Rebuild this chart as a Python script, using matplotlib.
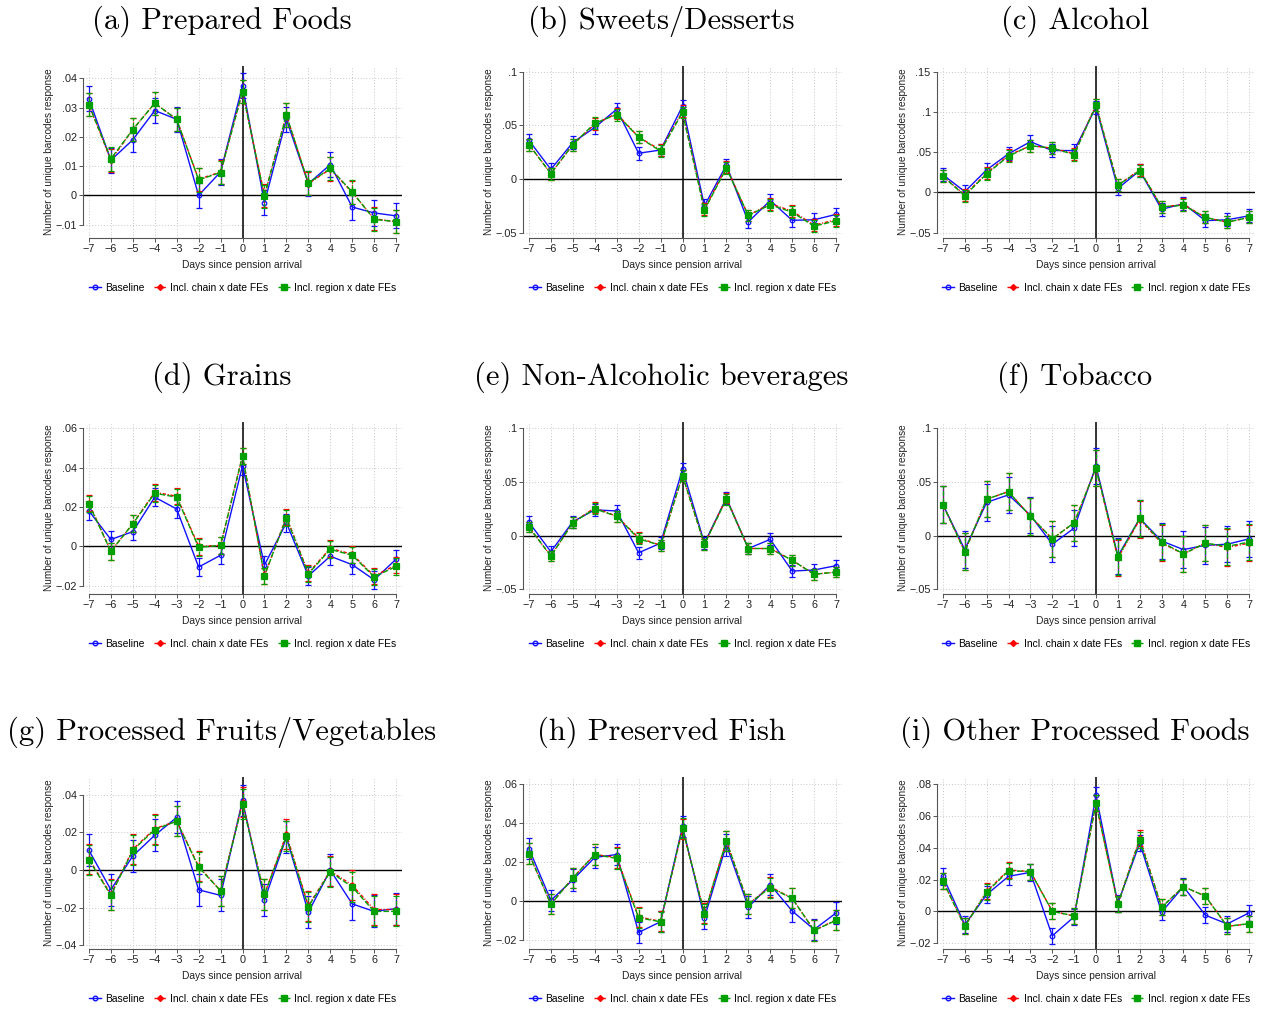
import matplotlib
matplotlib.use("Agg")
import matplotlib.pyplot as plt
from matplotlib.ticker import FixedLocator, FuncFormatter
from matplotlib.lines import Line2D

# ---------------- data ----------------
days = list(range(-7, 8))

titles = ["(a) Prepared Foods", "(b) Sweets/Desserts", "(c) Alcohol",
          "(d) Grains", "(e) Non-Alcoholic beverages", "(f) Tobacco",
          "(g) Processed Fruits/Vegetables", "(h) Preserved Fish", "(i) Other Processed Foods"]

series_labels = ["Baseline", "Incl. chain x date FEs", "Incl. region x date FEs"]

prepared_base   = [0.033, 0.012, 0.019, 0.029, 0.026, 0.000, 0.008, 0.0375, -0.0025, 0.026, 0.004, 0.0105, -0.004, -0.006, -0.007]
prepared_chain  = [0.031, 0.012, 0.0225, 0.0315, 0.026, 0.0055, 0.008, 0.0355, 0.000, 0.0275, 0.004, 0.009, 0.001, -0.008, -0.009]
prepared_region = [0.031, 0.0125, 0.0225, 0.0315, 0.026, 0.0053, 0.0078, 0.0355, -0.0003, 0.0275, 0.0042, 0.0092, 0.0012, -0.0082, -0.009]

sweets_base   = [0.036, 0.009, 0.034, 0.048, 0.065, 0.024, 0.027, 0.068, -0.025, 0.013, -0.040, -0.020, -0.0385, -0.038, -0.033]
sweets_chain  = [0.032, 0.005, 0.032, 0.051, 0.061, 0.039, 0.027, 0.063, -0.028, 0.011, -0.034, -0.023, -0.030, -0.043, -0.038]
sweets_region = [0.032, 0.005, 0.032, 0.052, 0.060, 0.039, 0.026, 0.062, -0.029, 0.010, -0.034, -0.024, -0.031, -0.044, -0.039]

alcohol_base   = [0.022, 0.001, 0.028, 0.048, 0.063, 0.052, 0.052, 0.106, 0.005, 0.027, -0.021, -0.014, -0.035, -0.034, -0.029]
alcohol_chain  = [0.020, -0.003, 0.024, 0.046, 0.058, 0.055, 0.048, 0.109, 0.009, 0.028, -0.018, -0.015, -0.031, -0.037, -0.031]
alcohol_region = [0.020, -0.004, 0.023, 0.045, 0.058, 0.055, 0.047, 0.108, 0.009, 0.027, -0.018, -0.016, -0.031, -0.037, -0.031]

grains_base   = [0.018, 0.0035, 0.0075, 0.025, 0.019, -0.0105, -0.0045, 0.041, -0.0095, 0.012, -0.015, -0.005, -0.0093, -0.017, -0.0065]
grains_chain  = [0.022, -0.0025, 0.0115, 0.0275, 0.0255, 0.000, 0.0005, 0.046, -0.015, 0.015, -0.0135, -0.001, -0.004, -0.015, -0.0095]
grains_region = [0.0215, -0.0025, 0.0115, 0.027, 0.025, -0.0005, 0.0005, 0.046, -0.015, 0.0145, -0.014, -0.0015, -0.0045, -0.0155, -0.0102]

nonalc_base   = [0.0125, -0.015, 0.013, 0.024, 0.023, -0.016, -0.007, 0.062, -0.007, 0.035, -0.012, -0.0035, -0.033, -0.032, -0.028]
nonalc_chain  = [0.008, -0.019, 0.012, 0.026, 0.018, -0.002, -0.009, 0.056, -0.008, 0.035, -0.012, -0.012, -0.023, -0.036, -0.034]
nonalc_region = [0.008, -0.019, 0.012, 0.025, 0.018, -0.003, -0.009, 0.056, -0.008, 0.034, -0.012, -0.012, -0.023, -0.036, -0.034]

tobacco_base   = [0.029, -0.013, 0.031, 0.038, 0.019, -0.008, 0.007, 0.065, -0.019, 0.016, -0.005, -0.013, -0.009, -0.008, -0.003]
tobacco_chain  = [0.029, -0.015, 0.034, 0.041, 0.018, -0.003, 0.012, 0.063, -0.021, 0.015, -0.007, -0.017, -0.007, -0.011, -0.007]
tobacco_region = [0.029, -0.015, 0.034, 0.041, 0.018, -0.003, 0.012, 0.063, -0.020, 0.016, -0.006, -0.017, -0.007, -0.010, -0.006]

fruitveg_base   = [0.0105, -0.0105, 0.0075, 0.0185, 0.028, -0.0105, -0.0135, 0.037, -0.016, 0.0175, -0.0225, 0.000, -0.018, -0.022, -0.0205]
fruitveg_chain  = [0.006, -0.013, 0.011, 0.022, 0.026, 0.002, -0.011, 0.036, -0.013, 0.019, -0.019, -0.0005, -0.008, -0.021, -0.021]
fruitveg_region = [0.0055, -0.0135, 0.0105, 0.0215, 0.026, 0.0015, -0.011, 0.035, -0.013, 0.018, -0.0195, -0.001, -0.009, -0.022, -0.022]

fish_base   = [0.027, 0.0005, 0.011, 0.0225, 0.024, -0.016, -0.0105, 0.0385, -0.0085, 0.029, -0.003, 0.0085, -0.005, -0.0145, -0.006]
fish_chain  = [0.0245, -0.0015, 0.012, 0.024, 0.0225, -0.008, -0.0103, 0.037, -0.006, 0.031, -0.0015, 0.0075, 0.0015, -0.015, -0.0095]
fish_region = [0.0245, -0.0015, 0.012, 0.024, 0.022, -0.0085, -0.0105, 0.0375, -0.0065, 0.031, -0.0015, 0.007, 0.0015, -0.015, -0.0098]

other_base   = [0.022, -0.0085, 0.0105, 0.022, 0.0245, -0.0155, -0.0035, 0.073, 0.005, 0.043, -0.0005, 0.0155, -0.0025, -0.008, -0.001]
other_chain  = [0.019, -0.0095, 0.0125, 0.026, 0.025, 0.000, -0.003, 0.068, 0.0045, 0.046, 0.0025, 0.0155, 0.0095, -0.0095, -0.008]
other_region = [0.019, -0.0095, 0.012, 0.0255, 0.025, 0.000, -0.003, 0.068, 0.0045, 0.045, 0.0025, 0.0155, 0.0095, -0.0095, -0.0078]

# 95% CI half-widths (baseline, chain, region)
ci_prepared = [0.0043, 0.0040, 0.0040]
ci_sweets   = [0.0060, 0.0055, 0.0055]
ci_alcohol  = [0.0080, 0.0075, 0.0075]
ci_grains   = [0.0045, 0.0042, 0.0042]
ci_nonalc   = [0.0055, 0.0050, 0.0050]
ci_tobacco  = [0.0170, 0.0170, 0.0170]
ci_fruitveg = [0.0085, 0.0080, 0.0080]
ci_fish     = [0.0055, 0.0052, 0.0052]
ci_other    = [0.0052, 0.0050, 0.0050]

yticks_list = [
    [-0.01, 0, 0.01, 0.02, 0.03, 0.04],
    [-0.05, 0, 0.05, 0.1],
    [-0.05, 0, 0.05, 0.1, 0.15],
    [-0.02, 0, 0.02, 0.04, 0.06],
    [-0.05, 0, 0.05, 0.1],
    [-0.05, 0, 0.05, 0.1],
    [-0.04, -0.02, 0, 0.02, 0.04],
    [-0.02, 0, 0.02, 0.04, 0.06],
    [-0.02, 0, 0.02, 0.04, 0.06, 0.08],
]

panels = [
    (prepared_base, prepared_chain, prepared_region, ci_prepared),
    (sweets_base, sweets_chain, sweets_region, ci_sweets),
    (alcohol_base, alcohol_chain, alcohol_region, ci_alcohol),
    (grains_base, grains_chain, grains_region, ci_grains),
    (nonalc_base, nonalc_chain, nonalc_region, ci_nonalc),
    (tobacco_base, tobacco_chain, tobacco_region, ci_tobacco),
    (fruitveg_base, fruitveg_chain, fruitveg_region, ci_fruitveg),
    (fish_base, fish_chain, fish_region, ci_fish),
    (other_base, other_chain, other_region, ci_other),
]

# ---------------- layout / style ----------------
ylims = [(-0.01457, 0.04422), (-0.055, 0.1053), (-0.0566, 0.157),
         (-0.0242, 0.0632), (-0.0544, 0.1059), (-0.0544, 0.1059),
         (-0.042, 0.0495), (-0.0245, 0.0638), (-0.0238, 0.0846)]

W, H = 1263, 1011
col_left = [83, 523, 937]
col_width = [319, 319, 318]
row_top = [66, 422, 777]
ax_h = 172

colors = ["#1010ff", "#ff0000", "#00a000"]
linestyles = ["-", (0, (2.5, 1.2, 0.8, 1.2)), (0, (4, 1.5))]
markers = ["o", "D", "s"]
msizes = [3.3, 3.0, 3.8]
mfcs = ["none", "#ff0000", "#00a000"]

sans = ["Liberation Sans", "DejaVu Sans"]
plt.rcParams["font.family"] = sans


def fmt(v, pos=None):
    if abs(v) < 1e-12:
        return "0"
    s = f"{abs(v):.2f}".rstrip("0")
    if s.startswith("0"):
        s = s[1:]
    return ("\u2212" if v < 0 else "") + s


fig = plt.figure(figsize=(W / 100, H / 100), dpi=100)

for i, (title, pdata, yt, yl) in enumerate(zip(titles, panels, yticks_list, ylims)):
    r, c = divmod(i, 3)
    left = col_left[c]
    top = row_top[r]
    ax = fig.add_axes([left / W, 1 - (top + ax_h) / H, col_width[c] / W, ax_h / H])
    ax.set_xlim(-7.27, 7.27)
    ax.set_ylim(*yl)

    ax.yaxis.set_major_locator(FixedLocator(yt))
    ax.yaxis.set_major_formatter(FuncFormatter(fmt))
    ax.xaxis.set_major_locator(FixedLocator(days))
    ax.xaxis.set_major_formatter(FuncFormatter(lambda v, p: ("\u2212" if v < 0 else "") + str(abs(int(round(v))))))

    ax.grid(True, linestyle=(0, (1, 2)), color="#c8c8c8", linewidth=0.7, zorder=0)
    ax.set_axisbelow(True)
    for sp in ["top", "right"]:
        ax.spines[sp].set_visible(False)
    ax.spines["left"].set_bounds(yt[0], yt[-1])
    ax.spines["bottom"].set_bounds(-7, 7)
    for sp in ["left", "bottom"]:
        ax.spines[sp].set_color("#555555")
        ax.spines[sp].set_linewidth(0.8)
    ax.tick_params(axis="both", length=3, width=0.7, color="#555555", pad=1.5,
                   labelsize=7.8, labelcolor="#222222")

    ax.axhline(0, color="black", linewidth=1.0, zorder=2)
    ax.axvline(0, color="black", linewidth=1.1, zorder=2)

    base, chain, region, ci = pdata
    for k, vals in enumerate([base, chain, region]):
        eb = ax.errorbar(days, vals, yerr=ci[k], color=colors[k], linestyle=linestyles[k],
                         linewidth=1.0, marker=markers[k], markersize=msizes[k],
                         markerfacecolor=mfcs[k], markeredgecolor=colors[k], markeredgewidth=0.9,
                         elinewidth=0.9, capsize=2.2, capthick=0.9, zorder=3 + k,
                         label=series_labels[k])
        for lc in eb[2]:
            lc.set_linestyle(linestyles[k] if k else "-")

    ax.set_xlabel("Days since pension arrival", fontsize=7.4, labelpad=4, color="#222222")
    ax.set_ylabel("Number of unique barcodes response", fontsize=7.2, labelpad=1, color="#222222")

    handles = [Line2D([0], [0], color=colors[k], linestyle=linestyles[k], linewidth=1.0,
                      marker=markers[k], markersize=msizes[k], markerfacecolor=mfcs[k],
                      markeredgecolor=colors[k]) for k in range(3)]
    ax.legend(handles, series_labels, loc="upper center", bbox_to_anchor=(0.5, -0.235),
              ncol=3, frameon=False, fontsize=7.4, handlelength=1.2, handletextpad=0.4,
              columnspacing=0.9, borderaxespad=0)

    cx = left + col_width[c] / 2 - 21
    fig.text(cx / W, 1 - (top - 45) / H, title, ha="center", va="center",
             fontsize=22, fontfamily="cmr10")

fig.savefig("out.png", dpi=100)
